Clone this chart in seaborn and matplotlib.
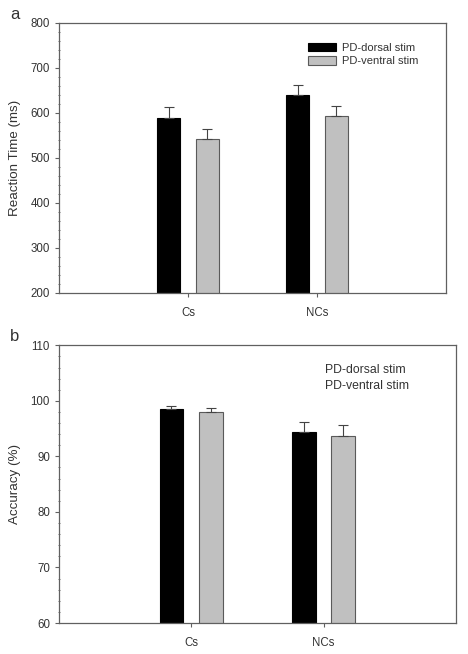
import numpy as np
import pandas as pd
import seaborn as sns
import matplotlib.pyplot as plt
from matplotlib.ticker import MultipleLocator

# data
conditions = ['Cs', 'NCs']
groups = ['PD-dorsal stim', 'PD-ventral stim']
rt_dorsal = [589, 639]
rt_ventral = [542, 593]
rt_dorsal_se = [24, 24]
rt_ventral_se = [23, 23]
acc_dorsal = [98.5, 94.45]
acc_ventral = [98.05, 93.6]
acc_dorsal_se = [0.65, 1.75]
acc_ventral_se = [0.7, 2.0]

sns.set_style('ticks')
plt.rcParams['font.family'] = ['Liberation Sans', 'DejaVu Sans']

palette = {'PD-dorsal stim': '#000000', 'PD-ventral stim': '#c0c0c0'}
edges = {'PD-dorsal stim': '#000000', 'PD-ventral stim': '#5a5a5a'}
frame_col = '#606060'
text_col = '#333333'


def make_df(dorsal, ventral, dorsal_se, ventral_se):
    rows = []
    for g, vals, ses in [(groups[0], dorsal, dorsal_se), (groups[1], ventral, ventral_se)]:
        for c, v, s in zip(conditions, vals, ses):
            rows.append({'cond': c, 'group': g, 'value': v, 'se': s})
    return pd.DataFrame(rows)


def draw_panel(ax, df, ylim, major, minor, ylabel):
    sns.barplot(data=df, x='cond', y='value', hue='group', order=conditions,
                hue_order=groups, palette=palette, width=0.6, gap=0.4,
                errorbar=None, ax=ax, linewidth=0.8, legend=True)
    # edge colours + upper error bars from bar positions
    for cont, g in zip(ax.containers, groups):
        sub = df[df['group'] == g].set_index('cond').loc[conditions]
        xs = []
        for bar in cont:
            bar.set_edgecolor(edges[g])
            xs.append(bar.get_x() + bar.get_width() / 2)
        ax.errorbar(xs, sub['value'], yerr=[np.zeros(len(xs)), sub['se']],
                    fmt='none', ecolor='#444444', elinewidth=0.8,
                    capsize=3.5, capthick=0.8, zorder=1)
    ax.set_xlim(-1, 2)
    ax.set_ylim(*ylim)
    ax.yaxis.set_major_locator(MultipleLocator(major))
    ax.yaxis.set_minor_locator(MultipleLocator(minor))
    ax.set_xlabel('')
    ax.set_ylabel(ylabel, fontsize=9.6, color=text_col, labelpad=7)
    for sp in ax.spines.values():
        sp.set_visible(True)
        sp.set_color(frame_col)
        sp.set_linewidth(0.9)
    ax.tick_params(axis='both', which='major', labelsize=8.3, colors=frame_col,
                   labelcolor=text_col, length=3, width=0.8, direction='out')
    ax.tick_params(axis='y', which='minor', length=2, width=0.6,
                   colors=frame_col, direction='inout')
    ax.tick_params(axis='x', which='major', pad=7)


fig = plt.figure(figsize=(4.68, 6.54), dpi=100)
ax1 = fig.add_axes([0.126, 0.552, 0.827, 0.413])
ax2 = fig.add_axes([0.126, 0.0474, 0.848, 0.4246])

df_rt = make_df(rt_dorsal, rt_ventral, rt_dorsal_se, rt_ventral_se)
draw_panel(ax1, df_rt, (200, 800), 100, 20, 'Reaction Time (ms)')
leg = ax1.legend(loc='upper left', bbox_to_anchor=(0.632, 0.942), frameon=False,
                 fontsize=8.0, handlelength=2.5, handleheight=0.75,
                 handletextpad=0.6, labelspacing=0.3, borderaxespad=0)
for t in leg.get_texts():
    t.set_color(text_col)
for h, g in zip(leg.legend_handles, groups):
    h.set_edgecolor(edges[g])

df_acc = make_df(acc_dorsal, acc_ventral, acc_dorsal_se, acc_ventral_se)
draw_panel(ax2, df_acc, (60, 110), 10, 2, 'Accuracy (%)')
leg2 = ax2.legend(loc='upper left', bbox_to_anchor=(0.658, 0.95), frameon=False,
                  fontsize=8.8, handlelength=0, handletextpad=0,
                  labelspacing=0.35, borderaxespad=0)
for h in leg2.legend_handles:
    h.set_visible(False)
for t in leg2.get_texts():
    t.set_color(text_col)

fig.text(0.022, 0.978, 'a', fontsize=12, color=text_col, va='center')
fig.text(0.022, 0.486, 'b', fontsize=12, color=text_col, va='center')

fig.savefig('out.png', dpi=100)
